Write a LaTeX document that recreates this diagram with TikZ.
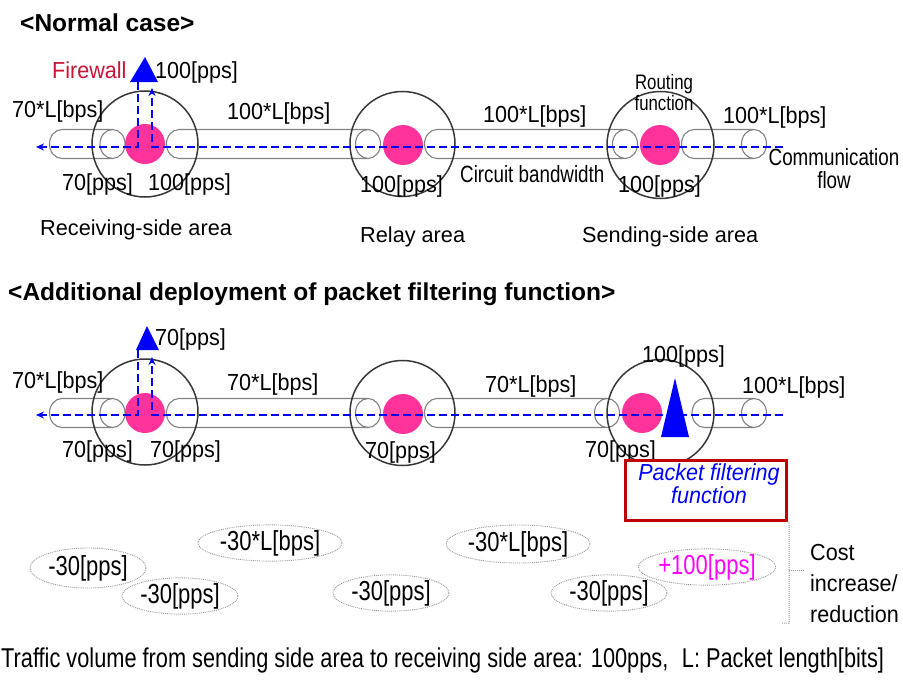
\documentclass[tikz,border=0pt]{standalone}
\usepackage{fontspec}
\setmainfont{Liberation Sans}
\newfontfamily\lblfont[FakeStretch=0.93]{Liberation Sans}
\newfontfamily\tallfont[FakeStretch=0.8]{Liberation Sans}
\usetikzlibrary{arrows.meta,shapes.geometric}

\definecolor{flowblue}{RGB}{0,0,255}
\definecolor{hostpink}{RGB}{255,51,153}
\definecolor{fwred}{RGB}{200,20,50}
\definecolor{boxred}{RGB}{192,0,0}
\definecolor{pipegray}{RGB}{130,130,130}
\definecolor{ringgray}{RGB}{55,55,55}
\definecolor{dotgray}{RGB}{150,150,150}

% a horizontal circuit: left cap centre, right cap centre, axis height
\newcommand\circuitpipe[3]{%
  \draw[pipeline] (#2,#3) ellipse [x radius=12.5pt, y radius=14.5pt];
  \draw[pipeline] (#2,#3-14.5) -- (#1,#3-14.5)
    arc[start angle=90, end angle=270, x radius=12.5pt, y radius=14.5pt]
    -- (#2,#3+14.5);
}

\begin{document}
\begin{tikzpicture}[x=1pt, y=-1pt,
  pipeline/.style={draw=pipegray, line width=1.1pt},
  ring/.style={draw=ringgray, line width=1.5pt},
  router/.style={fill=hostpink},
  flow/.style={draw=flowblue, line width=2pt, dash pattern=on 8pt off 4pt},
  flowtip/.style={-{Stealth[length=8pt,width=7pt]}},
  lbl/.style={inner sep=0pt, anchor=base west, font=\lblfont\fontsize{23.2}{26}\selectfont},
  area/.style={inner sep=0pt, anchor=base west, font=\fontsize{21.7}{24}\selectfont},
  small/.style={inner sep=0pt, anchor=base, font=\tallfont\fontsize{23.5}{26}\selectfont},
  tiny/.style={inner sep=0pt, anchor=base, font=\tallfont\fontsize{21}{23}\selectfont},
  heading/.style={inner sep=0pt, anchor=base west, font=\fontsize{24.5}{27}\selectfont\bfseries},
  delta/.style={ellipse, draw=dotgray, densely dotted, line width=0.9pt, inner sep=0pt,
    font=\tallfont\fontsize{27.5}{30}\selectfont},
]
\useasboundingbox (0,0) rectangle (903,680);

% ---------------- normal case ----------------
\node[heading] (h1) at (20,31) {<Normal case>};

\circuitpipe{62}{112.5}{144}
\circuitpipe{179}{368}{144}
\circuitpipe{437}{625}{144}
\circuitpipe{694}{754}{144}

\draw[ring] (145,144) circle[radius=53pt];
\draw[ring] (402.5,144) circle[radius=52.5pt];
\draw[ring] (660.5,145) circle[radius=53.5pt];
\fill[router] (145,144) circle[radius=20pt];
\fill[router] (403,145) circle[radius=20pt];
\fill[router] (660,145) circle[radius=20pt];

% firewall
\fill[flowblue] (145,57) -- (158,82) -- (130,82) -- cycle;
\coordinate (in1) at (783,147);
\coordinate (fwin1) at (152,88);
\coordinate (fwout1) at (138,82);
\coordinate (out1) at (36,147);
\draw[flow, flowtip] (in1) -- (in1 -| fwin1) -- (fwin1);
\draw[flow, flowtip] (fwout1) -- (fwout1 |- in1) -- (out1);

\node[lbl, text=fwred] (fw) at (52,78) {Firewall};
\node[lbl] (a1) at (155,78) {100[pps]};
\node[lbl] (a2) at (12,117) {70*L[bps]};
\node[lbl] (a3) at (227,119) {100*L[bps]};
\node[lbl] (a4) at (62,190) {70[pps]};
\node[lbl] (a5) at (148,190) {100[pps]};
\node[area] (a6) at (40,235) {Receiving-side area};
\node[lbl] (a7) at (360,192) {100[pps]};
\node[lbl] (a8) at (483,122) {100*L[bps]};
\node[small, anchor=base west] (a9) at (460,182) {Circuit bandwidth};
\node[area] (a10) at (360,242) {Relay area};
\node[tiny] (a11) at (664,89) {Routing};
\node[tiny] (a12) at (664,110) {function};
\node[lbl] (a13) at (723,123) {100*L[bps]};
\node[small] (a14) at (834,165) {Communication};
\node[small] (a15) at (834,188) {flow};
\node[lbl] (a16) at (618,192) {100[pps]};
\node[area] (a17) at (582,242) {Sending-side area};

% ---------------- with packet filtering ----------------
\node[heading] (h2) at (8,300) {<Additional deployment of packet filtering function>};

\circuitpipe{62}{112.5}{413}
\circuitpipe{179}{368}{413}
\circuitpipe{437}{607}{413}
\circuitpipe{704.5}{754}{413}

\draw[ring] (145,412) circle[radius=53pt];
\draw[ring] (402.5,413) circle[radius=52.5pt];
\draw[ring] (660.5,413) circle[radius=53.5pt];
\fill[router] (145,413) circle[radius=20pt];
\fill[router] (403,414) circle[radius=20pt];
\fill[router] (642,413) circle[radius=20pt];

\fill[flowblue] (147,326) -- (159,350) -- (136,350) -- cycle;
\coordinate (in2) at (783,415);
\coordinate (fwin2) at (152,357);
\coordinate (fwout2) at (138,350);
\coordinate (out2) at (36,415);
\draw[flow, flowtip] (in2) -- (in2 -| fwin2) -- (fwin2);
\draw[flow, flowtip] (fwout2) -- (fwout2 |- in2) -- (out2);

% packet filter in the sending-side area
\fill[flowblue] (675,378) -- (689,437) -- (661,437) -- cycle;

\node[lbl] (b1) at (155,345) {70[pps]};
\node[lbl] (b2) at (12,388) {70*L[bps]};
\node[lbl] (b3) at (227,390) {70*L[bps]};
\node[lbl] (b4) at (62,457) {70[pps]};
\node[lbl] (b5) at (150,457) {70[pps]};
\node[lbl] (b6) at (365,458) {70[pps]};
\node[lbl] (b7) at (485,392) {70*L[bps]};
\node[lbl] (b8) at (642,362) {100[pps]};
\node[lbl] (b9) at (742,393) {100*L[bps]};
\node[lbl] (b10) at (585,457) {70[pps]};

\node[draw=boxred, line width=3pt, fill=white, minimum width=161pt, minimum height=60pt,
  inner sep=0pt] (pf) at (705.5,490) {};
\node[lbl, anchor=base, text=flowblue, font=\lblfont\fontsize{23.2}{26}\selectfont\itshape]
  (pf1) at (709,480) {Packet filtering};
\node[lbl, anchor=base, text=flowblue, font=\lblfont\fontsize{23.2}{26}\selectfont\itshape]
  (pf2) at (709,503) {function};

% cost changes
\node[delta, minimum width=116pt, minimum height=40pt] (c1) at (88,568) {-30[pps]};
\node[delta, minimum width=116pt, minimum height=36pt] (c2) at (180,596) {-30[pps]};
\node[delta, minimum width=144pt, minimum height=36pt] (c3) at (270,543) {-30*L[bps]};
\node[delta, minimum width=116pt, minimum height=34pt] (c4) at (391,593) {-30[pps]};
\node[delta, minimum width=144pt, minimum height=38pt] (c5) at (518,544) {-30*L[bps]};
\node[delta, minimum width=116pt, minimum height=36pt] (c6) at (609,593) {-30[pps]};
\node[delta, minimum width=120pt, minimum height=36pt, text={rgb,255:red,255;green,0;blue,255}]
  (c7) at (707,567) {+100[pps]};

\coordinate (brk) at (789,570);
\draw[dotgray, densely dotted, line width=1pt]
  (pf.south east) -- (789,523) -- (789,623) -- (782,623);
\draw[dotgray, densely dotted, line width=1pt] (brk) -- (805,570);
\node[lbl] (k1) at (810,560) {Cost};
\node[lbl] (k2) at (810,591) {increase/};
\node[lbl] (k3) at (810,622) {reduction};

\node[inner sep=0pt, anchor=base west, font=\tallfont\fontsize{27.2}{30}\selectfont] (note) at (1,667)
  {Traffic volume from sending side area to receiving side area: 100pps,\enspace L: Packet length[bits]};
\end{tikzpicture}
\end{document}
